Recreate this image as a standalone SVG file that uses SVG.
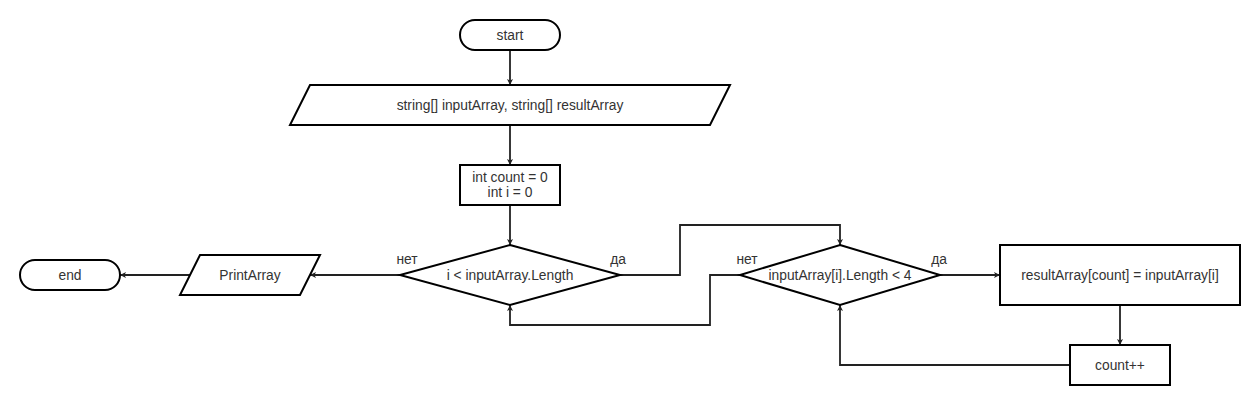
<svg xmlns="http://www.w3.org/2000/svg" width="1260" height="405" viewBox="0 0 1260 405">
  <style>
    .node { fill: #ffffff; stroke: #000000; stroke-width: 2; }
    .edge { fill: none; stroke: #222222; stroke-width: 1.8; }
    .t { font-family: "Liberation Sans", Arial, sans-serif; font-size: 13.8px; fill: #333333; text-anchor: middle; }
    .lbl { font-family: "Liberation Sans", Arial, sans-serif; font-size: 13.8px; fill: #333333; text-anchor: middle; }
  </style>
  <defs>
    <marker id="arr" markerUnits="userSpaceOnUse" markerWidth="8" markerHeight="8" refX="6" refY="3" orient="auto">
      <path d="M0,0 L6,3 L0,6 L1.5,3 z" fill="#222222"/>
    </marker>
  </defs>
  <rect width="1260" height="405" fill="#ffffff"/>

  <g id="connectors">
    <path class="edge" d="M510,50 L510,85" marker-end="url(#arr)"/>
    <path class="edge" d="M510,125 L510,165" marker-end="url(#arr)"/>
    <path class="edge" d="M510,205 L510,245" marker-end="url(#arr)"/>
    <path class="edge" d="M400,275 L310,275" marker-end="url(#arr)"/>
    <path class="edge" d="M190,275 L120,275" marker-end="url(#arr)"/>
    <path class="edge" d="M620,275 L680,275 L680,225 L840,225 L840,245" marker-end="url(#arr)"/>
    <path class="edge" d="M740,275 L710,275 L710,325 L510,325 L510,305" marker-end="url(#arr)"/>
    <path class="edge" d="M940,275 L1000,275" marker-end="url(#arr)"/>
    <path class="edge" d="M1120,305 L1120,345" marker-end="url(#arr)"/>
    <path class="edge" d="M1070,365 L840,365 L840,305" marker-end="url(#arr)"/>
    <text class="lbl" x="407" y="264">нет</text>
    <text class="lbl" x="618" y="264">да</text>
    <text class="lbl" x="747" y="264">нет</text>
    <text class="lbl" x="939" y="264">да</text>
  </g>

  <g id="start">
    <rect class="node" x="460" y="20" width="100" height="30" rx="15" ry="15"/>
    <text class="t" x="510" y="40">start</text>
  </g>

  <g id="input">
    <polygon class="node" points="310,85 730,85 710,125 290,125"/>
    <text class="t" x="510" y="110">string[] inputArray, string[] resultArray</text>
  </g>

  <g id="init">
    <rect class="node" x="460" y="165" width="100" height="40"/>
    <text class="t" x="510" y="182">int count = 0</text>
    <text class="t" x="510" y="197">int i = 0</text>
  </g>

  <g id="cond1">
    <polygon class="node" points="510,245 620,275 510,305 400,275"/>
    <text class="t" x="510" y="280">i &lt; inputArray.Length</text>
  </g>

  <g id="cond2">
    <polygon class="node" points="840,245 940,275 840,305 740,275"/>
    <text class="t" x="840" y="280">inputArray[i].Length &lt; 4</text>
  </g>

  <g id="assign">
    <rect class="node" x="1000" y="245" width="240" height="60"/>
    <text class="t" x="1120" y="280">resultArray[count] = inputArray[i]</text>
  </g>

  <g id="inc">
    <rect class="node" x="1070" y="345" width="100" height="40"/>
    <text class="t" x="1120" y="370">count++</text>
  </g>

  <g id="print">
    <polygon class="node" points="200,255 320,255 300,295 180,295"/>
    <text class="t" x="250" y="280">PrintArray</text>
  </g>

  <g id="end">
    <rect class="node" x="20" y="260" width="100" height="30" rx="15" ry="15"/>
    <text class="t" x="70" y="280">end</text>
  </g>
</svg>
